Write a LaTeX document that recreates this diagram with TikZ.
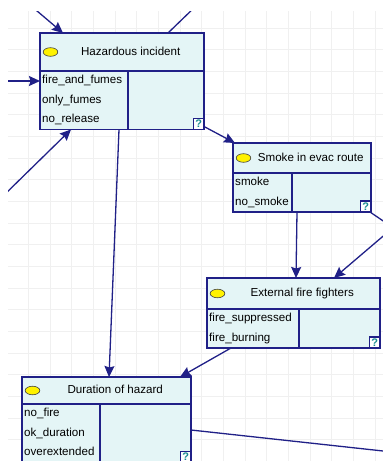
\documentclass[tikz,border=0pt]{standalone}
\usepackage{fontspec}
\setmainfont{Liberation Sans}
\usetikzlibrary{calc,arrows.meta}
\definecolor{navy}{RGB}{32,32,135}
\definecolor{boxfill}{RGB}{228,245,246}
\definecolor{gridc}{RGB}{240,240,240}
\definecolor{qteal}{RGB}{25,140,145}
\tikzset{
  nodebox/.style={draw=navy, fill=boxfill, line width=1.2pt, inner sep=0pt, outer sep=0pt, anchor=north west},
  divline/.style={draw=navy, line width=1.2pt},
  link/.style={draw=navy, line width=1.3pt},
  arr/.style={link, -{Stealth[length=11pt,width=10pt,inset=1.5pt]}},
  gridline/.style={draw=gridc, line width=0.8pt},
  lbl/.style={inner sep=0pt, font=\fontsize{11.6}{13}\selectfont, text height=8.5pt, text depth=2.5pt},
  dot/.style={draw=black!75, fill=yellow, line width=0.6pt},
  qbox/.style={draw=navy, fill=white, line width=1.1pt},
  qmark/.style={inner sep=0pt, text=qteal, font=\bfseries\fontsize{11}{11}\selectfont}
}
% #1 name, #2 x, #3 y, #4 width, #5 height, #6 header height, #7 column offset, #8 title, #9 states
\newcommand{\netnode}[9]{%
  \node[nodebox, minimum width=#4pt, minimum height=#5pt] (#1) at (#2,#3) {};
  \draw[divline] ($(#1.north west)+(0,#6)$) -- ($(#1.north east)+(0,#6)$);
  \draw[divline] ($(#1.north west)+(#7,#6)$) -- ($(#1.south west)+(#7,0)$);
  \draw[dot] ($(#1.north west)+(10.5,{#6/2})$) ellipse [x radius=7.3pt, y radius=4.3pt];
  \node[lbl] (#1-t) at ($(#1.north west)+({(17.5+#4)/2},{#6/2})$) {#8};
  \foreach \s [count=\i] in {#9}
    \node[lbl, anchor=west] (#1-s\i) at ($(#1.north west)+(2,{#6+19.5*\i-9.75})$) {\s};
  \draw[qbox] ($(#1.south east)+(-10.5,-11)$) rectangle (#1.south east);
  \node[qmark] (#1-q) at ($(#1.south east)+(-5.25,-5.5)$) {?};
}
\begin{document}
\begin{tikzpicture}[x=1pt, y=-1pt]
\useasboundingbox (0,0) rectangle (383,461);
\clip (8,11) rectangle (383,461);
% grid
\foreach \g in {0,...,16}
  \draw[gridline] ({28.3+21.67*\g},11) -- ({28.3+21.67*\g},461);
\foreach \g in {0,...,20}
  \draw[gridline] (8,{28+21.67*\g}) -- (383,{28+21.67*\g});
% nodes
\netnode{hi}{40}{33}{164}{96.5}{38}{88}{Hazardous incident}{fire\_and\_fumes,only\_fumes,no\_release}
\netnode{sm}{233}{143}{138}{69}{30}{59}{Smoke in evac route}{smoke,no\_smoke}
\netnode{ef}{207}{278}{173}{70}{31}{92}{External fire fighters}{fire\_suppressed,fire\_burning}
\netnode{dh}{22}{377}{169}{85.5}{27}{78}{Duration of hazard}{no\_fire,ok\_duration,overextended}
% free ends
\coordinate (f1) at (30,5);
\coordinate (f2) at (197,5);
\coordinate (f3) at (0,81);
\coordinate (f4) at (0,199);
\coordinate (f8) at (395,229);
\coordinate (f9) at (395,226);
\coordinate (f11) at (395,452.3);
% connectors
\draw[arr] (f1) -- ($(hi.north west)+(23,0)$);
\draw[link] ($(hi.north west)+(128,0)$) -- (f2);
\draw[arr] (f3) -- ($(hi.north west)+(0,48)$);
\draw[arr] (f4) -- ($(hi.south west)+(31,0)$);
\draw[arr] ($(hi.south west)+(79,0)$) -- ($(dh.north west)+(87,0)$);
\draw[arr] ($(hi.south east)+(0,-3)$) -- ($(sm.north west)+(2,0)$);
\draw[arr] ($(sm.south west)+(64,0)$) -- ($(ef.north west)+(89,0)$);
\draw[link] ($(sm.south east)+(-1,0)$) -- (f8);
\draw[arr] (f9) -- ($(ef.north west)+(127,0)$);
\draw[arr] ($(ef.south west)+(24,0)$) -- ($(dh.north east)+(-11,0)$);
\draw[link] ($(dh.north east)+(0,53)$) -- (f11);
\end{tikzpicture}
\end{document}
